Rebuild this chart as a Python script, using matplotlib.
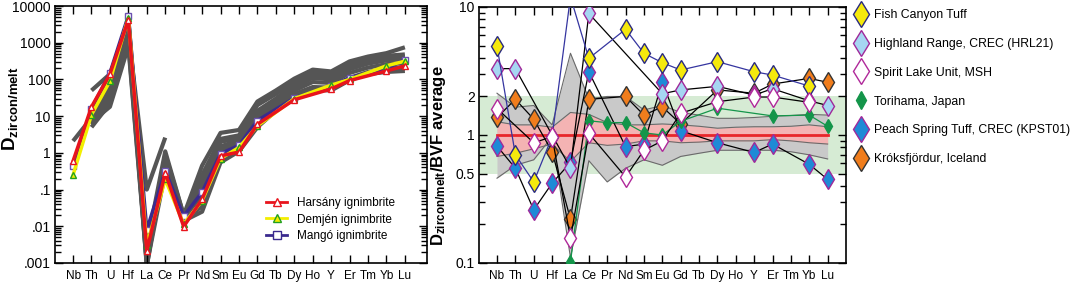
import numpy as np
import matplotlib
matplotlib.use('Agg')
import matplotlib.pyplot as plt
from matplotlib.lines import Line2D
from matplotlib.ticker import LogLocator, NullFormatter

plt.rcParams['font.family'] = ['Liberation Sans', 'DejaVu Sans']
plt.rcParams['mathtext.fontset'] = 'custom'
plt.rcParams['mathtext.rm'] = 'Liberation Sans'
plt.rcParams['mathtext.bf'] = 'Liberation Sans:bold'

nan = np.nan
elements = ['Nb', 'Th', 'U', 'Hf', 'La', 'Ce', 'Pr', 'Nd', 'Sm', 'Eu', 'Gd', 'Tb',
            'Dy', 'Ho', 'Y', 'Er', 'Tm', 'Yb', 'Lu']

# ---- left panel: D zircon/melt ----
harsany = [0.6, 18, 140, 4200, 0.0021, 0.29, 0.0098, 0.055, 0.83, 1.05, 6.0, nan,
           28, nan, 55, 93, nan, 170, 235]
demjen = [0.25, 11, 90, 4800, 0.003, 0.19, 0.0115, 0.05, 0.7, 1.4, 5.4, nan,
          30, nan, 70, 100, nan, 235, 315]
mango = [0.45, 16, 150, 5500, 0.008, 0.32, 0.019, 0.085, 0.95, 1.6, 7.6, nan,
         31, nan, 66, 112, nan, 200, 340]

# literature compilation (grey)
grey_lines = [
    [nan, 50, 140, 2500, 0.0008, 0.9, 0.02, 0.45, 3.5, 4.2, 25, 50, 105, 185, 165, 310, 420, 520, 750],
    [2.1, 9, 40, 1800, 0.1, 2.6, nan, nan, nan, nan, nan, nan, nan, nan, nan, nan, nan, nan, nan],
    [nan, 12, 60, 3500, 0.002, 0.6, 0.018, 0.25, 2.4, 3.0, 20, 40, 88, 155, 140, 260, 360, 440, 480],
    [nan, 6, 30, 1500, 0.0015, 0.5, 0.016, 0.15, 2.0, 2.5, 14, 30, 72, 130, 120, 220, 320, 400, 420],
    [nan, 5, 22, 1000, 0.001, 0.45, 0.015, 0.1, 1.5, 2.2, 11, 25, 60, 110, 100, 190, 270, 330, 360],
    [nan, 8, 45, 2000, 0.0012, 0.7, 0.017, 0.07, 1.2, 1.9, 9, 20, 50, 85, 80, 150, 210, 260, 280],
    [nan, 10, 80, 4000, 0.0015, 0.35, 0.015, 0.035, 0.7, 1.3, 7, 17, 40, 62, 60, 110, 160, 190, 220],
    [nan, 7, 18, 800, 0.0009, 0.3, 0.014, 0.025, 0.55, 1.1, 5, 14, 33, 52, 50, 95, 140, 170, 200],
    [nan, 15, 100, 4500, 0.003, 1.1, 0.02, 0.09, 1.0, 1.6, 6, 15, 35, 56, 55, 100, 140, 160, 170],
]

# ---- right panel: normalised to BVF average ----
fish_canyon = [4.95, 0.70, 0.43, 0.97, 12, 3.97, nan, 6.7, 4.35, 3.67, 3.22, nan,
               3.74, nan, 3.12, 2.94, nan, 2.41, nan]
highland = [3.3, 3.3, nan, nan, 0.55, 8.9, nan, nan, nan, 2.1, 2.25, nan,
            2.4, nan, 2.05, 2.3, nan, 1.85, 1.7]
spirit_lake = [1.61, nan, 0.87, 0.97, 0.156, 1.03, nan, 0.47, 0.76, 0.9, 1.48, nan,
               1.82, nan, 1.98, 1.98, nan, 1.8, nan]
torihama = [nan, nan, nan, nan, 0.102, 1.29, 1.25, 1.25, 1.04, 1.0, 1.28, nan,
            1.62, nan, nan, 1.41, nan, 1.43, 1.17]
peach_spring = [0.82, 0.55, 0.26, 0.42, 0.61, 3.12, nan, 0.81, 0.85, 2.61, 1.08, nan,
                0.87, nan, 0.73, 0.85, nan, 0.59, 0.45]
kroksfjordur = [1.37, 1.9, 1.33, 0.74, 0.22, 1.9, nan, 2.0, 1.43, 1.66, 1.22, nan,
                2.25, nan, 2.12, 2.5, nan, 2.77, 2.58]

# BVF envelopes
grey_upper = [2.12, 1.65, 1.7, 1.2, 4.35, 1.92, 2.0, 2.0, 1.57, 1.7, 1.5, 1.43,
              1.35, 1.35, 1.37, 1.4, 1.42, 1.45, 1.43]
grey_lower = [0.46, 0.58, 0.64, 0.97, 0.11, 0.63, 0.43, 0.55, 0.64, 0.58, 0.68, 0.72,
              0.76, 0.76, 0.76, 0.76, 0.74, 0.7, 0.65]
pink_upper = [1.27, 1.2, 1.2, 1.15, 1.5, 1.45, 1.25, 1.2, 1.2, 1.22, 1.2, 1.17,
              1.13, 1.15, 1.16, 1.16, 1.17, 1.2, 1.16]
pink_lower = [0.68, 0.72, 0.78, 0.85, 0.62, 0.87, 0.83, 0.85, 0.9, 0.9, 0.87, 0.88,
              0.9, 0.9, 0.9, 0.92, 0.9, 0.87, 0.85]
green_band = [0.5, 2.0]

x = np.arange(len(elements))


def connect(ax, vals, **kw):
    # join the measured points, skipping missing elements
    v = np.array(vals, dtype=float)
    m = ~np.isnan(v)
    return ax.plot(x[m], v[m], **kw)


def style_axis(ax):
    ax.set_yscale('log')
    ax.set_xticks(x)
    ax.set_xticklabels(elements, fontsize=8.5)
    ax.yaxis.set_minor_locator(LogLocator(base=10, subs=np.arange(2, 10), numticks=30))
    ax.yaxis.set_minor_formatter(NullFormatter())
    ax.tick_params(which='both', direction='in', top=True, right=True, width=1.0)
    ax.tick_params(which='major', length=6, labelsize=10, pad=3)
    ax.tick_params(which='minor', length=4)
    ax.tick_params(axis='x', labelsize=8.5, pad=5)
    ax.minorticks_on()
    ax.xaxis.set_minor_locator(plt.NullLocator())
    for s in ax.spines.values():
        s.set_linewidth(1.2)


fig = plt.figure(figsize=(10.72, 2.83), dpi=100)

# Левая панель
ax1 = fig.add_axes([55/1072, 20/283, 372/1072, 257/283])
style_axis(ax1)
for g in grey_lines:
    ax1.plot(x, g, color='#555555', lw=3, solid_capstyle='butt', zorder=1)
connect(ax1, mango, color='#3a2a8e', lw=2.5, marker='s', ms=5, mfc='white',
        mec='#6a50b0', mew=1, zorder=3)
connect(ax1, demjen, color='#f3ee00', lw=2.5, marker='^', ms=5, mfc='#f3ee00',
        mec='#22a020', mew=1, zorder=4)
connect(ax1, harsany, color='#e8141c', lw=2.5, marker='^', ms=5, mfc='white',
        mec='#e8141c', mew=1, zorder=5)
ax1.set_ylim(0.001, 10000)
ax1.set_xlim(-0.98, 19.2)
ax1.set_yticks([0.001, 0.01, 0.1, 1, 10, 100, 1000, 10000])
ax1.set_yticklabels(['.001', '.01', '.1', '1', '10', '100', '1000', '10000'])
ax1.set_ylabel(r'$\mathbf{D_{zircon/melt}}$', fontsize=13.5)
ax1.yaxis.set_label_coords(-0.094, 0.6)

h1 = [Line2D([], [], color='#e8141c', lw=2, marker='^', ms=6, mfc='white', mec='#e8141c'),
      Line2D([], [], color='#f3ee00', lw=2, marker='^', ms=6, mfc='#f3ee00', mec='#22a020'),
      Line2D([], [], color='#3a2a8e', lw=2, marker='s', ms=6, mfc='white', mec='#3a2a8e')]
ax1.legend(h1, ['Harsány ignimbrite', 'Demjén ignimbrite', 'Mangó ignimbrite'],
           loc='upper left', bbox_to_anchor=(0.567, 0.255), frameon=False,
           fontsize=8.5, borderpad=0, borderaxespad=0, labelspacing=0.35,
           handlelength=1.8, handletextpad=0.8)

# Правая панель
ax2 = fig.add_axes([479/1072, 20/283, 367/1072, 256/283])
style_axis(ax2)
ax2.set_ylim(0.1, 10)
ax2.set_xlim(-0.98, 19.0)
ax2.axhspan(green_band[0], green_band[1], color='#d6ebd4', lw=0, zorder=0)
ax2.fill_between(x, grey_lower, grey_upper, color='#c9c9c9', lw=0, zorder=1)
ax2.fill_between(x, pink_lower, pink_upper, color='#f4b3b3', lw=0, zorder=1.5)
for env in [grey_upper, grey_lower, pink_upper, pink_lower]:
    ax2.plot(x, env, color='#6a6a6a', lw=0.8, zorder=2)
ax2.plot([x[0], x[-1]], [1, 1], color='#e8262a', lw=2, zorder=2.5)

styles = [
    (kroksfjordur, 'black', '#f07d1c', '#333333', 10.5),
    (peach_spring, 'black', '#1e8ad6', '#a0289a', 10.5),
    (torihama, '#14954a', '#14954a', '#14954a', 7),
    (highland, 'black', '#a6d6f2', '#a0289a', 10.5),
    (fish_canyon, '#3535a0', '#f5e90c', '#2a2a80', 10.5),
    (spirit_lake, 'black', 'white', '#b0289a', 10.5),
]
for vals, lc, fc, ec, ms in styles:
    connect(ax2, vals, color=lc, lw=0.9, marker='d', ms=ms, mfc=fc, mec=ec,
            mew=1, zorder=3)

ax2.set_yticks([0.1, 0.5, 1, 2, 10])
ax2.set_yticklabels(['0.1', '0.5', '1', '2', '10'])
ax2.set_ylabel(r'$\mathbf{D_{zircon/melt}}$/BVF average', fontsize=12,
               fontweight='bold')
ax2.yaxis.set_label_coords(-0.085, 0.42)

names = ['Fish Canyon Tuff', 'Highland Range, CREC (HRL21)', 'Spirit Lake Unit, MSH',
         'Torihama, Japan', 'Peach Spring Tuff, CREC (KPST01)', 'Króksfjördur, Iceland']
h2 = [Line2D([], [], ls='none', marker='d', ms=13, mfc='#f5e90c', mec='#2a2a80'),
      Line2D([], [], ls='none', marker='d', ms=13, mfc='#a6d6f2', mec='#a0289a'),
      Line2D([], [], ls='none', marker='d', ms=13, mfc='white', mec='#b0289a'),
      Line2D([], [], ls='none', marker='d', ms=9, mfc='#14954a', mec='#14954a'),
      Line2D([], [], ls='none', marker='d', ms=13, mfc='#1e8ad6', mec='#a0289a'),
      Line2D([], [], ls='none', marker='d', ms=13, mfc='#f07d1c', mec='#333333')]
fig.legend(h2, names, loc='upper left', bbox_to_anchor=(855/1072, 1 - 9/283),
           frameon=False, fontsize=8.8, borderpad=0, borderaxespad=0,
           labelspacing=1.38, handlelength=1.0, handletextpad=0.55)

fig.savefig('out.png', dpi=100)
